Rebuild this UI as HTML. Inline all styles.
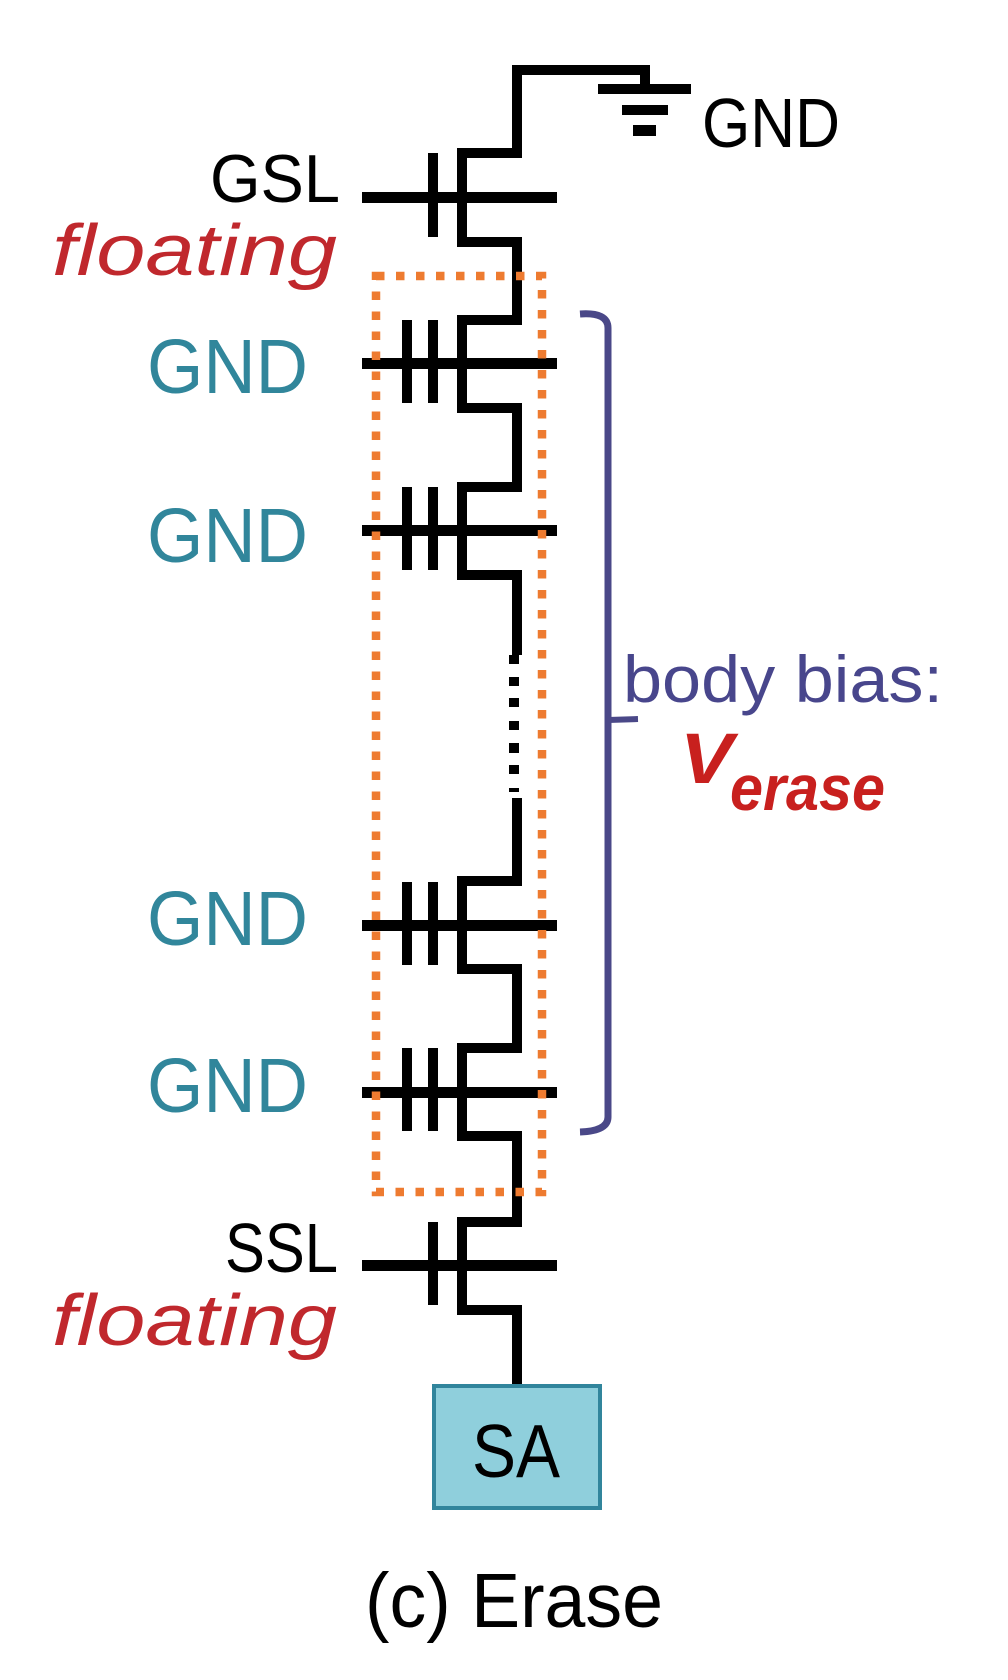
<!DOCTYPE html>
<html>
<head>
<meta charset="utf-8">
<style>
  html, body { margin: 0; padding: 0; background: #ffffff; }
  svg { display: block; }
  text { font-family: "Liberation Sans", sans-serif; }
</style>
</head>
<body>
<svg width="1008" height="1680" viewBox="0 0 1008 1680" xmlns="http://www.w3.org/2000/svg">
  <rect x="0" y="0" width="1008" height="1680" fill="#ffffff"/>

  <!-- Ground symbol -->
  <rect x="598" y="84" width="93" height="10" fill="#000"/>
  <rect x="622" y="105" width="46" height="10" fill="#000"/>
  <rect x="633" y="125" width="23" height="11" fill="#000"/>

  <!-- NAND string main wire -->
  <path d="M645,90 V70 H517 V153 H462 V242 H517 V320 H462 V408 H517 V487 H462 V575 H517 V655"
        fill="none" stroke="#000" stroke-width="10" stroke-linejoin="miter" stroke-linecap="butt"/>
  <path d="M517,798 V881 H462 V969 H517 V1048 H462 V1136 H517 V1222 H462 V1310 H517 V1386"
        fill="none" stroke="#000" stroke-width="10" stroke-linejoin="miter" stroke-linecap="butt"/>

  <!-- dotted continuation -->
  <g fill="#000">
    <rect x="509" y="655" width="10" height="9"/>
    <rect x="509" y="677" width="10" height="9"/>
    <rect x="509" y="698" width="10" height="9"/>
    <rect x="509" y="721" width="10" height="9"/>
    <rect x="509" y="743" width="10" height="10"/>
    <rect x="509" y="765" width="10" height="9"/>
    <rect x="509" y="788" width="10" height="4"/>
  </g>

  <!-- Gate wires -->
  <g fill="#000">
    <rect x="362" y="192" width="195" height="11"/>
    <rect x="362" y="358" width="195" height="11"/>
    <rect x="362" y="525" width="195" height="11"/>
    <rect x="362" y="920" width="195" height="11"/>
    <rect x="362" y="1087" width="195" height="11"/>
    <rect x="362" y="1260" width="195" height="11"/>
  </g>

  <!-- Gate bars -->
  <g fill="#000">
    <!-- GSL -->
    <rect x="428" y="153" width="10" height="84"/>
    <!-- cell 1 -->
    <rect x="402" y="320" width="10" height="83"/>
    <rect x="428" y="320" width="10" height="83"/>
    <!-- cell 2 -->
    <rect x="402" y="487" width="10" height="83"/>
    <rect x="428" y="487" width="10" height="83"/>
    <!-- cell 3 -->
    <rect x="402" y="882" width="10" height="83"/>
    <rect x="428" y="882" width="10" height="83"/>
    <!-- cell 4 -->
    <rect x="402" y="1048" width="10" height="83"/>
    <rect x="428" y="1048" width="10" height="83"/>
    <!-- SSL -->
    <rect x="428" y="1222" width="10" height="83"/>
  </g>

  <!-- Orange dotted box -->
  <rect x="376" y="276" width="166" height="916" fill="none" stroke="#ee7b30"
        stroke-width="8.5" stroke-dasharray="8.5 11.5"/>

  <!-- Bracket -->
  <path d="M580,314 Q608,312 608,328 L608,1117 Q608,1131 580,1132"
        fill="none" stroke="#4a4888" stroke-width="7"/>
  <path d="M608,720 L638,719" fill="none" stroke="#4a4888" stroke-width="6"/>

  <!-- SA box -->
  <rect x="434" y="1386" width="166" height="122" fill="#8fcfdc" stroke="#31859c" stroke-width="4"/>

  <!-- Labels -->
  <text x="702" y="147" font-size="70" fill="#000" textLength="138" lengthAdjust="spacingAndGlyphs">GND</text>

  <text x="210" y="202" font-size="68" fill="#000" textLength="130" lengthAdjust="spacingAndGlyphs">GSL</text>
  <text x="52" y="275" font-size="72" font-style="italic" fill="#c0282d" textLength="285" lengthAdjust="spacingAndGlyphs">floating</text>

  <text x="147" y="393" font-size="77" fill="#31869b" textLength="161" lengthAdjust="spacingAndGlyphs">GND</text>
  <text x="147" y="562" font-size="77" fill="#31869b" textLength="161" lengthAdjust="spacingAndGlyphs">GND</text>
  <text x="147" y="945" font-size="77" fill="#31869b" textLength="161" lengthAdjust="spacingAndGlyphs">GND</text>
  <text x="147" y="1112" font-size="77" fill="#31869b" textLength="161" lengthAdjust="spacingAndGlyphs">GND</text>

  <text x="225" y="1272" font-size="70" fill="#000" textLength="113" lengthAdjust="spacingAndGlyphs">SSL</text>
  <text x="52" y="1345" font-size="72" font-style="italic" fill="#c0282d" textLength="285" lengthAdjust="spacingAndGlyphs">floating</text>

  <text x="623" y="702" font-size="66" fill="#48468c" textLength="320" lengthAdjust="spacingAndGlyphs">body bias:</text>
  <text x="680" y="783" font-size="71" font-weight="bold" font-style="italic" fill="#c8201e" textLength="53" lengthAdjust="spacingAndGlyphs">V</text>
  <text x="730" y="810" font-size="64" font-weight="bold" font-style="italic" fill="#c8201e" textLength="155" lengthAdjust="spacingAndGlyphs">erase</text>

  <text x="472" y="1477" font-size="75" fill="#000" textLength="88" lengthAdjust="spacingAndGlyphs">SA</text>

  <text x="365" y="1627" font-size="77" fill="#000" textLength="298" lengthAdjust="spacingAndGlyphs">(c) Erase</text>
</svg>
</body>
</html>
